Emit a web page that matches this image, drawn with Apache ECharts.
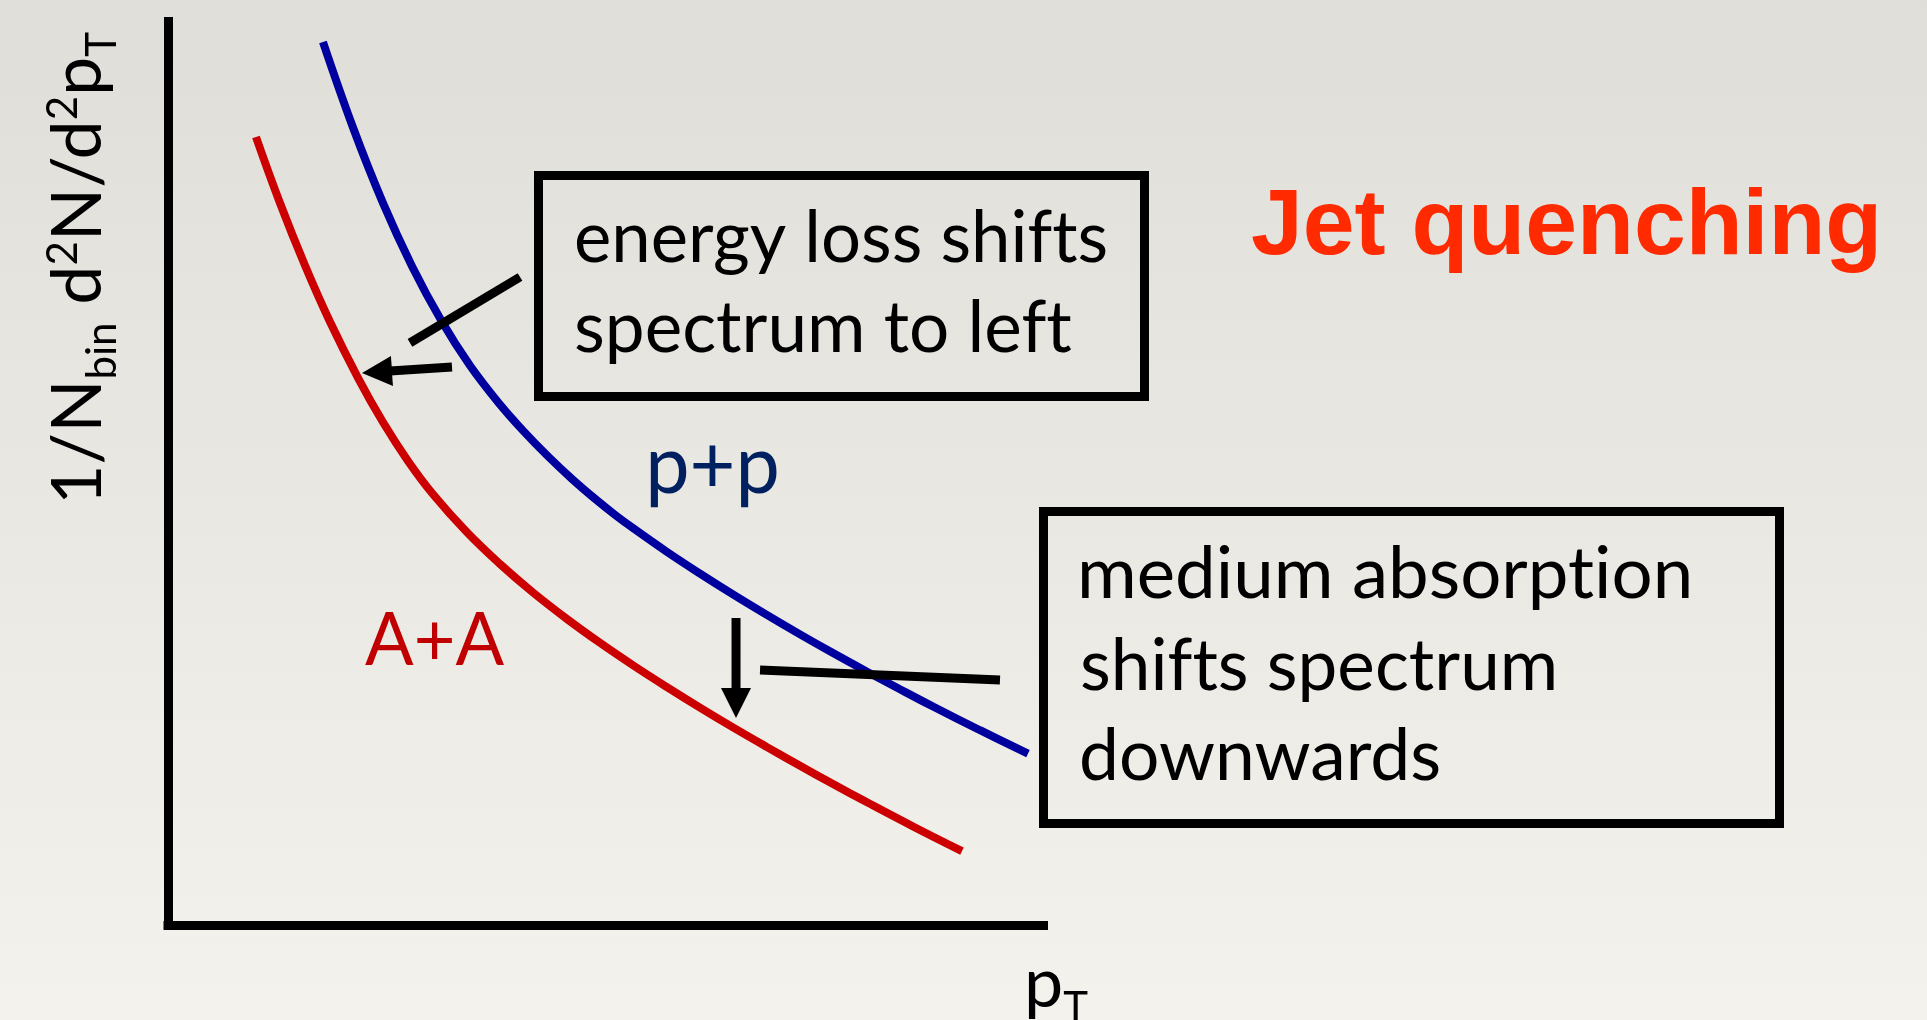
<!DOCTYPE html>
<html>
<head>
<meta charset="utf-8">
<title>Jet quenching</title>
<script src="https://cdn.jsdelivr.net/npm/echarts@6/dist/echarts.min.js"></script>
<style>
  html, body { margin: 0; padding: 0; overflow: hidden; }
  #chart { width: 1927px; height: 1020px; }
</style>
</head>
<body>
<div id="chart"></div>
<script>
// Schematic invariant-yield spectra, arbitrary units (pT on x, yield on y)
const ppPt    = [17.70, 21.13, 24.56, 27.87, 31.18, 34.49, 37.92, 40.66, 43.40, 46.15, 49.00, 51.06, 53.11, 56.88, 60.77, 64.53, 68.30, 72.19, 75.96, 79.84, 83.61, 87.38, 92.75, 98.23];
const ppYield = [97.73, 88.27, 79.90, 72.92, 66.97, 61.93, 57.61, 54.61, 51.88, 49.37, 46.99, 45.40, 43.93, 41.37, 38.89, 36.59, 34.38, 32.17, 30.10, 28.04, 26.09, 24.18, 21.56, 18.96];

const aaPt    = [10.05, 12.79, 15.65, 18.50, 21.70, 24.56, 27.41, 30.27, 34.15, 37.92, 41.69, 45.57, 49.34, 53.11, 56.99, 60.76, 64.53, 68.42, 72.19, 75.96, 79.84, 85.21, 90.69];
const aaYield = [87.22, 79.91, 72.99, 66.76, 60.56, 55.64, 51.36, 47.67, 43.46, 39.95, 36.80, 33.87, 31.23, 28.75, 26.33, 24.06, 21.87, 19.69, 17.62, 15.60, 13.58, 10.85, 8.17];

const axisRange = [0, 100];

// Text content
const seriesNames = ['p+p', 'A+A'];
const title = 'Jet quenching';
const energyLossLines = ['energy loss shifts', 'spectrum to left'];
const absorptionLines = ['medium absorption', 'shifts spectrum', 'downwards'];
// axis titles as runs: 'n' normal, 'sub' subscript, 'sup' superscript
const yTitleRuns = [['1/N', 'n'], ['bin', 'sub'], [' d', 'n'], ['2', 'sup'], ['N/d', 'n'], ['2', 'sup'], ['p', 'n'], ['T', 'sub']];
const xTitleRuns = [['p', 'n'], ['T', 'sub']];

// Annotation anchors in data units: [pT, yield]
const leftShiftArrow = { tail: [32.44, 61.76], tip: [22.16, 61.10] };
const leftShiftLeader = [[27.64, 64.42], [40.21, 71.72]];
const downShiftArrow = { tail: [64.88, 33.98], tip: [64.88, 22.91] };
const downShiftLeader = [[67.62, 28.22], [95.03, 27.12]];

const SANS = 'Lato, "Open Sans", sans-serif';
const TITLE_FONT = '"Liberation Sans", Arial, sans-serif';

// Draw plain glyphs (no "ti"/"ft" ligatures) in every canvas text call
(function () {
  const proto = CanvasRenderingContext2D.prototype;
  const fill = proto.fillText;
  proto.fillText = function () {
    if ('textRendering' in this) this.textRendering = 'optimizeSpeed';
    return fill.apply(this, arguments);
  };
})();

const chart = echarts.init(document.getElementById('chart'), null, { renderer: 'canvas' });

const axisCommon = {
  type: 'value',
  min: axisRange[0],
  max: axisRange[1],
  axisLine: { show: true, onZero: false, lineStyle: { color: '#000', width: 9, cap: 'square' } },
  axisTick: { show: false },
  axisLabel: { show: false },
  splitLine: { show: false }
};

chart.setOption({
  animation: false,
  backgroundColor: new echarts.graphic.LinearGradient(0, 0, 0, 1, [
    { offset: 0, color: '#e0ded9' },
    { offset: 0.5, color: '#eae8e3' },
    { offset: 1, color: '#f4f2ed' }
  ]),
  grid: { left: 168, top: 21.5, right: 883.5, bottom: 95 },
  xAxis: axisCommon,
  yAxis: axisCommon,
  series: [
    {
      name: seriesNames[0], type: 'line', silent: true, symbol: 'none', smooth: 0.4, z: 3,
      data: ppPt.map((x, i) => [x, ppYield[i]]),
      lineStyle: { color: '#00009e', width: 8, cap: 'butt' }
    },
    {
      name: seriesNames[1], type: 'line', silent: true, symbol: 'none', smooth: 0.4, z: 3,
      data: aaPt.map((x, i) => [x, aaYield[i]]),
      lineStyle: { color: '#cc0000', width: 8, cap: 'butt' }
    }
  ]
});

// ---- text helpers ----
const mctx = document.createElement('canvas').getContext('2d');
if ('textRendering' in mctx) mctx.textRendering = 'optimizeSpeed';
function fontString(size, family, weight) {
  return (weight || 'normal') + ' ' + size + 'px ' + family;
}
function metrics(str, size, family, weight) {
  mctx.font = fontString(size, family, weight);
  mctx.textBaseline = 'middle';
  const m = mctx.measureText(str);
  const h = mctx.measureText('H');
  return { m, midToBase: h.actualBoundingBoxDescent };
}
function textStyle(str, size, family, weight, color) {
  return {
    text: str, fontSize: size, fontFamily: family, fontWeight: weight || 'normal',
    fill: color, align: 'left', verticalAlign: 'middle',
    textAlign: 'left', textVerticalAlign: 'middle', lineHeight: size
  };
}
// text whose glyphs span [left, right] with its baseline at `baseline`
function fittedText(str, o) {
  const { m, midToBase } = metrics(str, o.size, o.family, o.weight);
  const glyphW = m.actualBoundingBoxLeft + m.actualBoundingBoxRight;
  const sx = (o.right != null) ? (o.right - o.left) / glyphW : 1;
  return {
    type: 'text', silent: true, z: 20,
    x: o.left + m.actualBoundingBoxLeft * sx,
    y: o.baseline - midToBase,
    scaleX: sx,
    style: textStyle(str, o.size, o.family, o.weight, o.color)
  };
}
// mixed-size runs (sub/superscripts) laid out along local x
function runGroup(runs, o) {
  const children = [];
  let cx = 0;
  runs.forEach(([t, kind]) => {
    const size = kind === 'n' ? o.size : o.smallSize;
    const shift = kind === 'sub' ? o.subShift : (kind === 'sup' ? o.supShift : 0);
    const { m, midToBase } = metrics(t, size, o.family);
    children.push({
      type: 'text', silent: true, x: cx, y: shift - midToBase,
      style: textStyle(t, size, o.family, 'normal', o.color)
    });
    cx += m.width;
  });
  const sx = o.length ? o.length / cx : 1;
  return { type: 'group', x: o.x, y: o.y, rotation: o.rotation || 0, scaleX: sx, silent: true, z: 20, children };
}

// ---- annotations ----
function px(pt) { return chart.convertToPixel({ gridIndex: 0 }, pt); }

function arrow(a, width, headLen, headW) {
  const t = px(a.tail), p = px(a.tip);
  const dx = p[0] - t[0], dy = p[1] - t[1];
  const len = Math.hypot(dx, dy);
  const ux = dx / len, uy = dy / len;
  const nx = -uy, ny = ux;
  const bx = p[0] - ux * headLen, by = p[1] - uy * headLen;
  return [
    { type: 'line', silent: true, z: 15,
      shape: { x1: t[0], y1: t[1], x2: bx + ux * 2, y2: by + uy * 2 },
      style: { stroke: '#000', lineWidth: width, lineCap: 'butt' } },
    { type: 'polygon', silent: true, z: 15,
      shape: { points: [[p[0], p[1]], [bx + nx * headW / 2, by + ny * headW / 2], [bx - nx * headW / 2, by - ny * headW / 2]] },
      style: { fill: '#000' } }
  ];
}
function leader(seg) {
  const a = px(seg[0]), b = px(seg[1]);
  return { type: 'line', silent: true, z: 15,
    shape: { x1: a[0], y1: a[1], x2: b[0], y2: b[1] },
    style: { stroke: '#000', lineWidth: 9, lineCap: 'butt' } };
}
function frame(x0, y0, x1, y1) {
  return { type: 'rect', silent: true, z: 12,
    shape: { x: x0, y: y0, width: x1 - x0, height: y1 - y0 },
    style: { fill: null, stroke: '#000', lineWidth: 9, lineJoin: 'miter' } };
}

const graphics = [];

// callout frames
graphics.push(frame(538.5, 175.5, 1144.5, 396.5));
graphics.push(frame(1043.5, 511.5, 1779.5, 823.5));

// callout text
const boxFont = { size: 72, family: SANS, color: '#000' };
graphics.push(fittedText(energyLossLines[0], Object.assign({ left: 576, right: 1106, baseline: 262 }, boxFont)));
graphics.push(fittedText(energyLossLines[1], Object.assign({ left: 576, right: 1072, baseline: 352 }, boxFont)));
graphics.push(fittedText(absorptionLines[0], Object.assign({ left: 1082, right: 1689, baseline: 598 }, boxFont)));
graphics.push(fittedText(absorptionLines[1], Object.assign({ left: 1082, right: 1554, baseline: 690 }, boxFont)));
graphics.push(fittedText(absorptionLines[2], Object.assign({ left: 1082, right: 1439, baseline: 780 }, boxFont)));

// series labels
graphics.push(fittedText(seriesNames[0], { left: 650, right: 777, baseline: 493, size: 82, family: SANS, color: '#002060' }));
graphics.push(fittedText(seriesNames[1], { left: 365, right: 504, baseline: 665, size: 74, family: SANS, color: '#c00000' }));

// title
graphics.push(fittedText(title, { left: 1252, right: 1877, baseline: 254, size: 92, family: TITLE_FONT, weight: 'bold', color: '#ff2a00' }));

// arrows and leaders
graphics.push(leader(leftShiftLeader));
graphics.push(...arrow(leftShiftArrow, 9, 30, 30));
graphics.push(leader(downShiftLeader));
graphics.push(...arrow(downShiftArrow, 9, 30, 30));

// axis titles
graphics.push(runGroup(yTitleRuns, {
  x: 101, y: 505, rotation: Math.PI / 2, length: 473,
  size: 70, smallSize: 42, subShift: 15, supShift: -24, family: SANS, color: '#000'
}));
graphics.push(runGroup(xTitleRuns, {
  x: 1024, y: 1007, size: 70, smallSize: 42, subShift: 15, supShift: -24, family: SANS, color: '#000'
}));

chart.setOption({ graphic: { elements: graphics } });
</script>
</body>
</html>
